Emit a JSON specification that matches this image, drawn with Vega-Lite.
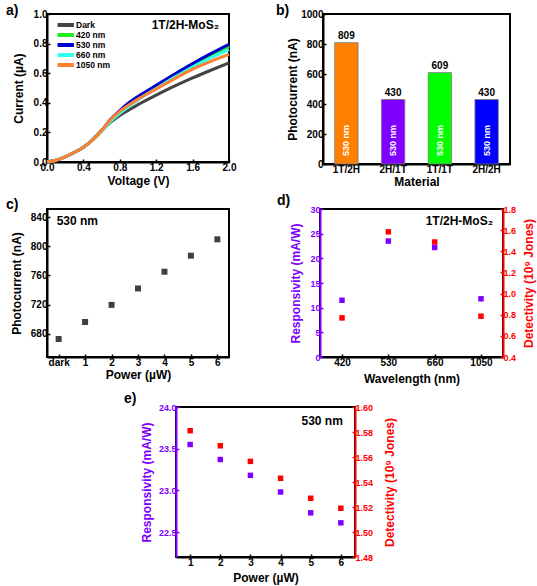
{
  "$schema": "https://vega.github.io/schema/vega-lite/v6.json",
  "background": "white",
  "padding": {"left": 5, "top": 3, "right": 5, "bottom": 5},
  "config": {
    "font": "Liberation Sans",
    "view": {"stroke": "black", "strokeWidth": 2},
    "axis": {
      "labelFont": "Liberation Sans", "labelFontWeight": "bold", "labelFontSize": 10, "labelColor": "black",
      "titleFont": "Liberation Sans", "titleFontWeight": "bold", "titleFontSize": 12, "titleColor": "black",
      "domainColor": "black", "domainWidth": 2, "tickColor": "black", "tickWidth": 1.5, "tickSize": -3,
      "grid": false, "labelPadding": 3, "titlePadding": 3, "labelOverlap": false, "labelFlush": false
    },
    "title": {"font": "Liberation Sans", "fontSize": 14, "fontWeight": "bold", "anchor": "start", "frame": "group", "offset": 0, "color": "black"},
    "text": {"font": "Liberation Sans", "fontWeight": "bold"}
  },
  "datasets": {
    "one": [{"k": 1}],
    "iv": [
      {"V": 0.0, "I": 0.0, "series": "Dark"}, {"V": 0.1, "I": 0.012, "series": "Dark"}, {"V": 0.2, "I": 0.035, "series": "Dark"}, {"V": 0.3, "I": 0.065, "series": "Dark"}, {"V": 0.4, "I": 0.1, "series": "Dark"}, {"V": 0.5, "I": 0.15, "series": "Dark"}, {"V": 0.6, "I": 0.21, "series": "Dark"}, {"V": 0.7, "I": 0.27, "series": "Dark"}, {"V": 0.8, "I": 0.315, "series": "Dark"}, {"V": 0.9, "I": 0.352, "series": "Dark"}, {"V": 1.0, "I": 0.388, "series": "Dark"}, {"V": 1.2, "I": 0.452, "series": "Dark"}, {"V": 1.4, "I": 0.512, "series": "Dark"}, {"V": 1.6, "I": 0.568, "series": "Dark"}, {"V": 1.8, "I": 0.62, "series": "Dark"}, {"V": 2.0, "I": 0.67, "series": "Dark"},
      {"V": 0.0, "I": 0.0, "series": "420 nm"}, {"V": 0.1, "I": 0.012, "series": "420 nm"}, {"V": 0.2, "I": 0.035, "series": "420 nm"}, {"V": 0.3, "I": 0.065, "series": "420 nm"}, {"V": 0.4, "I": 0.1, "series": "420 nm"}, {"V": 0.5, "I": 0.15, "series": "420 nm"}, {"V": 0.6, "I": 0.212, "series": "420 nm"}, {"V": 0.7, "I": 0.285, "series": "420 nm"}, {"V": 0.8, "I": 0.342, "series": "420 nm"}, {"V": 0.9, "I": 0.392, "series": "420 nm"}, {"V": 1.0, "I": 0.435, "series": "420 nm"}, {"V": 1.2, "I": 0.51, "series": "420 nm"}, {"V": 1.4, "I": 0.584, "series": "420 nm"}, {"V": 1.6, "I": 0.655, "series": "420 nm"}, {"V": 1.8, "I": 0.72, "series": "420 nm"}, {"V": 2.0, "I": 0.782, "series": "420 nm"},
      {"V": 0.0, "I": 0.0, "series": "530 nm"}, {"V": 0.1, "I": 0.012, "series": "530 nm"}, {"V": 0.2, "I": 0.035, "series": "530 nm"}, {"V": 0.3, "I": 0.065, "series": "530 nm"}, {"V": 0.4, "I": 0.1, "series": "530 nm"}, {"V": 0.5, "I": 0.15, "series": "530 nm"}, {"V": 0.6, "I": 0.213, "series": "530 nm"}, {"V": 0.7, "I": 0.288, "series": "530 nm"}, {"V": 0.8, "I": 0.348, "series": "530 nm"}, {"V": 0.9, "I": 0.4, "series": "530 nm"}, {"V": 1.0, "I": 0.443, "series": "530 nm"}, {"V": 1.2, "I": 0.518, "series": "530 nm"}, {"V": 1.4, "I": 0.593, "series": "530 nm"}, {"V": 1.6, "I": 0.665, "series": "530 nm"}, {"V": 1.8, "I": 0.732, "series": "530 nm"}, {"V": 2.0, "I": 0.795, "series": "530 nm"},
      {"V": 0.0, "I": 0.0, "series": "660 nm"}, {"V": 0.1, "I": 0.012, "series": "660 nm"}, {"V": 0.2, "I": 0.035, "series": "660 nm"}, {"V": 0.3, "I": 0.065, "series": "660 nm"}, {"V": 0.4, "I": 0.1, "series": "660 nm"}, {"V": 0.5, "I": 0.15, "series": "660 nm"}, {"V": 0.6, "I": 0.208, "series": "660 nm"}, {"V": 0.7, "I": 0.275, "series": "660 nm"}, {"V": 0.8, "I": 0.328, "series": "660 nm"}, {"V": 0.9, "I": 0.375, "series": "660 nm"}, {"V": 1.0, "I": 0.42, "series": "660 nm"}, {"V": 1.2, "I": 0.497, "series": "660 nm"}, {"V": 1.4, "I": 0.572, "series": "660 nm"}, {"V": 1.6, "I": 0.642, "series": "660 nm"}, {"V": 1.8, "I": 0.703, "series": "660 nm"}, {"V": 2.0, "I": 0.76, "series": "660 nm"},
      {"V": 0.0, "I": 0.0, "series": "1050 nm"}, {"V": 0.1, "I": 0.012, "series": "1050 nm"}, {"V": 0.2, "I": 0.035, "series": "1050 nm"}, {"V": 0.3, "I": 0.065, "series": "1050 nm"}, {"V": 0.4, "I": 0.1, "series": "1050 nm"}, {"V": 0.5, "I": 0.15, "series": "1050 nm"}, {"V": 0.6, "I": 0.212, "series": "1050 nm"}, {"V": 0.7, "I": 0.287, "series": "1050 nm"}, {"V": 0.8, "I": 0.342, "series": "1050 nm"}, {"V": 0.9, "I": 0.385, "series": "1050 nm"}, {"V": 1.0, "I": 0.425, "series": "1050 nm"}, {"V": 1.2, "I": 0.493, "series": "1050 nm"}, {"V": 1.4, "I": 0.562, "series": "1050 nm"}, {"V": 1.6, "I": 0.627, "series": "1050 nm"}, {"V": 1.8, "I": 0.68, "series": "1050 nm"}, {"V": 2.0, "I": 0.727, "series": "1050 nm"}
    ],
    "bars": [
      {"Material": "1T/2H", "Photocurrent": 809},
      {"Material": "2H/1T", "Photocurrent": 430},
      {"Material": "1T/1T", "Photocurrent": 609},
      {"Material": "2H/2H", "Photocurrent": 430}
    ],
    "power": [
      {"Power": "dark", "Photocurrent": 672.7},
      {"Power": "1", "Photocurrent": 696},
      {"Power": "2", "Photocurrent": 719.5},
      {"Power": "3", "Photocurrent": 742},
      {"Power": "4", "Photocurrent": 765},
      {"Power": "5", "Photocurrent": 787},
      {"Power": "6", "Photocurrent": 809.4}
    ],
    "wl": [
      {"Wavelength": "420", "Responsivity": 11.5, "Detectivity": 0.77},
      {"Wavelength": "530", "Responsivity": 23.5, "Detectivity": 1.584},
      {"Wavelength": "660", "Responsivity": 22.2, "Detectivity": 1.488},
      {"Wavelength": "1050", "Responsivity": 11.8, "Detectivity": 0.786}
    ],
    "pw": [
      {"Power": "1", "Responsivity": 23.55, "Detectivity": 1.581},
      {"Power": "2", "Responsivity": 23.37, "Detectivity": 1.569},
      {"Power": "3", "Responsivity": 23.18, "Detectivity": 1.5565},
      {"Power": "4", "Responsivity": 22.98, "Detectivity": 1.543},
      {"Power": "5", "Responsivity": 22.73, "Detectivity": 1.527},
      {"Power": "6", "Responsivity": 22.61, "Detectivity": 1.519}
    ]
  },
  "spacing": 6,
  "resolve": {"scale": {"color": "independent"}, "legend": {"color": "independent"}},
  "vconcat": [
    {
      "spacing": 5,
      "resolve": {"scale": {"color": "independent"}, "legend": {"color": "independent"}},
      "vconcat": [
        {
          "bounds": "flush",
          "spacing": 94,
          "resolve": {"scale": {"color": "independent"}, "legend": {"color": "independent"}},
          "hconcat": [
            {
              "width": 182, "height": 148,
              "title": {"text": "a)", "dx": -41, "dy": 13},
              "layer": [
                {
                  "data": {"name": "iv"},
                  "mark": {"type": "line", "strokeWidth": 3, "interpolate": "monotone"},
                  "encoding": {
                    "x": {"field": "V", "type": "quantitative", "scale": {"domain": [0, 2]}, "axis": {"title": "Voltage (V)", "values": [0, 0.4, 0.8, 1.2, 1.6, 2.0], "tickCount": 50, "format": ".1f", "labelOverlap": false}},
                    "y": {"field": "I", "type": "quantitative", "scale": {"domain": [0, 1]}, "axis": {"title": "Current (µA)", "values": [0, 0.2, 0.4, 0.6, 0.8, 1.0], "tickCount": 50, "format": ".1f", "titlePadding": 8, "labelOverlap": false}},
                    "color": {"field": "series", "type": "nominal",
                      "scale": {"domain": ["Dark", "420 nm", "530 nm", "660 nm", "1050 nm"], "range": ["#444444", "#22ee22", "#0000cc", "#33ffee", "#ff8030"]},
                      "legend": {"title": null, "orient": "none", "legendX": 10.5, "legendY": 6, "padding": 0, "symbolType": "M-3.8,0H3.8", "symbolSize": 36, "symbolStrokeWidth": 4, "labelFont": "Liberation Sans", "labelFontWeight": "bold", "labelFontSize": 8.5, "labelColor": "black", "rowPadding": 0, "clipHeight": 10, "labelOffset": 8.5}}
                  }
                },
                {
                  "data": {"name": "one"},
                  "mark": {"type": "text", "text": "1T/2H-MoS₂", "align": "right", "baseline": "middle", "fontSize": 12},
                  "encoding": {"x": {"datum": 1.89}, "y": {"datum": 0.925}}
                }
              ]
            },
            {
              "width": 187, "height": 150,
              "title": {"text": "b)", "dx": -47, "dy": 13},
              "data": {"name": "bars"},
              "encoding": {
                "x": {"field": "Material", "type": "nominal", "sort": null, "scale": {"paddingInner": 0.5, "paddingOuter": 0.25}, "axis": {"labelAngle": 0, "title": "Material", "titlePadding": 2, "labelOverlap": false}}
              },
              "layer": [
                {
                  "mark": {"type": "bar", "stroke": "#777777", "strokeWidth": 0.8},
                  "encoding": {
                    "y": {"field": "Photocurrent", "type": "quantitative", "scale": {"domain": [0, 1000]}, "axis": {"title": "Photocurrent (nA)", "values": [0, 200, 400, 600, 800, 1000], "tickCount": 50, "format": "d", "titlePadding": 1, "labelOverlap": false}},
                    "color": {"field": "Material", "type": "nominal", "scale": {"domain": ["1T/2H", "2H/1T", "1T/1T", "2H/2H"], "range": ["#ff8000", "#8000ff", "#00ff00", "#0000ff"]}, "legend": null}
                  }
                },
                {
                  "mark": {"type": "text", "baseline": "middle", "dy": -7, "fontSize": 10},
                  "encoding": {"y": {"field": "Photocurrent", "type": "quantitative"}, "text": {"field": "Photocurrent", "type": "quantitative"}}
                },
                {
                  "mark": {"type": "text", "text": "530 nm", "angle": 270, "align": "center", "baseline": "middle", "color": "white", "fontSize": 9},
                  "encoding": {"y": {"datum": 157}}
                }
              ]
            }
          ]
        },
        {
          "bounds": "flush",
          "spacing": 91,
          "hconcat": [
            {
              "width": 182, "height": 148,
              "title": {"text": "c)", "dx": -41, "dy": 7},
              "layer": [
                {
                  "data": {"name": "power"},
                  "mark": {"type": "square", "size": 36, "color": "#404040", "opacity": 1},
                  "encoding": {
                    "x": {"field": "Power", "type": "nominal", "sort": null, "scale": {"type": "point", "padding": 0.44}, "axis": {"labelAngle": 0, "title": "Power (µW)", "titlePadding": 2, "labelOverlap": false}},
                    "y": {"field": "Photocurrent", "type": "quantitative", "scale": {"domain": [648, 851], "nice": false, "zero": false}, "axis": {"title": "Photocurrent (nA)", "values": [680, 720, 760, 800, 840], "tickCount": 50, "format": "d", "titlePadding": 7, "labelOverlap": false}}
                  }
                },
                {
                  "data": {"name": "one"},
                  "mark": {"type": "text", "text": "530 nm", "align": "left", "baseline": "middle", "fontSize": 12, "dx": -2},
                  "encoding": {"x": {"datum": "dark"}, "y": {"datum": 834}}
                }
              ]
            },
            {
              "width": 183, "height": 148,
              "title": {"text": "d)", "dx": -43, "dy": 7},
              "encoding": {
                "x": {"field": "Wavelength", "type": "nominal", "sort": null, "scale": {"type": "point", "padding": 0.475}, "axis": {"labelAngle": 0, "title": "Wavelength (nm)", "titlePadding": 6, "labelOverlap": false}}
              },
              "layer": [
                {
                  "layer": [
                    {
                      "data": {"name": "wl"},
                      "mark": {"type": "square", "size": 30, "color": "#ff0000", "opacity": 1},
                      "encoding": {
                        "y": {"field": "Detectivity", "type": "quantitative", "scale": {"domain": [0.4, 1.8], "nice": false, "zero": false}, "axis": {"orient": "right", "title": "Detectivity (10⁹ Jones)", "titleAngle": 270, "titleBaseline": "top", "values": [0.4, 0.6, 0.8, 1.0, 1.2, 1.4, 1.6, 1.8], "tickCount": 50, "format": ".1f", "domainColor": "#ff0000", "tickColor": "#ff0000", "labelColor": "#ff0000", "titleColor": "#ff0000", "labelFontSize": 9, "titlePadding": 8, "labelOverlap": false}}
                      }
                    },
                    {
                      "data": {"name": "one"},
                      "mark": {"type": "text", "text": "1T/2H-MoS₂", "align": "right", "baseline": "middle", "fontSize": 12, "dx": 12},
                      "encoding": {"x": {"datum": "1050"}, "y": {"datum": 1.689}}
                    }
                  ]
                },
                {
                  "data": {"name": "wl"},
                  "mark": {"type": "square", "size": 30, "color": "#8000ff", "opacity": 1},
                  "encoding": {
                    "y": {"field": "Responsivity", "type": "quantitative", "scale": {"domain": [0, 30], "nice": false}, "axis": {"orient": "left", "title": "Responsivity (mA/W)", "values": [0, 5, 10, 15, 20, 25, 30], "tickCount": 50, "format": "d", "domainColor": "#8000ff", "tickColor": "#8000ff", "labelColor": "#8000ff", "titleColor": "#8000ff", "labelFontSize": 9, "titlePadding": 7, "labelOverlap": false}}
                  }
                }
              ],
              "resolve": {"scale": {"y": "independent"}}
            }
          ]
        }
      ]
    },
    {
      "bounds": "flush",
      "spacing": 128,
      "hconcat": [
        {
          "width": 1, "height": 1,
          "data": {"values": []},
          "mark": {"type": "point", "opacity": 0},
          "view": {"stroke": null}
        },
        {
          "width": 179, "height": 150,
          "title": {"text": "e)", "dx": -52, "dy": 7},
          "encoding": {
            "x": {"field": "Power", "type": "nominal", "sort": null, "scale": {"type": "point", "padding": 0.47}, "axis": {"labelAngle": 0, "title": "Power (µW)", "titlePadding": 5, "labelOverlap": false}}
          },
          "layer": [
            {
              "layer": [
                {
                  "data": {"name": "pw"},
                  "mark": {"type": "square", "size": 30, "color": "#ff0000", "opacity": 1},
                  "encoding": {
                    "y": {"field": "Detectivity", "type": "quantitative", "scale": {"domain": [1.48, 1.6], "nice": false, "zero": false}, "axis": {"orient": "right", "title": "Detectivity (10⁹ Jones)", "titleAngle": 270, "titleBaseline": "top", "values": [1.48, 1.5, 1.52, 1.54, 1.56, 1.58, 1.6], "tickCount": 50, "format": ".2f", "domainColor": "#ff0000", "tickColor": "#ff0000", "labelColor": "#ff0000", "titleColor": "#ff0000", "labelFontSize": 9, "titlePadding": 12, "labelOverlap": false}}
                  }
                },
                {
                  "data": {"name": "one"},
                  "mark": {"type": "text", "text": "530 nm", "align": "right", "baseline": "middle", "fontSize": 12, "dx": 2},
                  "encoding": {"x": {"datum": "6"}, "y": {"datum": 1.589}}
                }
              ]
            },
            {
              "data": {"name": "pw"},
              "mark": {"type": "square", "size": 30, "color": "#8000ff", "opacity": 1},
              "encoding": {
                "y": {"field": "Responsivity", "type": "quantitative", "scale": {"domain": [22.2, 24.0], "nice": false, "zero": false}, "axis": {"orient": "left", "title": "Responsivity (mA/W)", "values": [22.5, 23.0, 23.5, 24.0], "tickCount": 50, "format": ".1f", "domainColor": "#8000ff", "tickColor": "#8000ff", "labelColor": "#8000ff", "titleColor": "#8000ff", "labelFontSize": 9, "titlePadding": 5, "labelOverlap": false}}
              }
            }
          ],
          "resolve": {"scale": {"y": "independent"}}
        }
      ]
    }
  ]
}
